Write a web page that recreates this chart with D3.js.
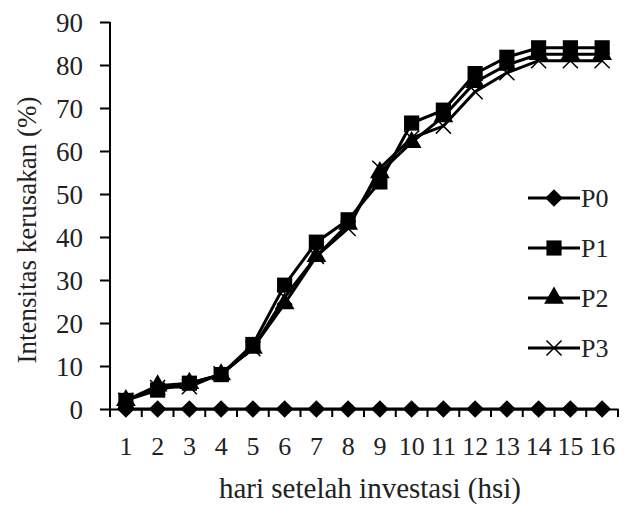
<!DOCTYPE html>
<html lang="en">
<head>
<meta charset="UTF-8">
<title>Intensitas kerusakan</title>
<script src="https://cdn.jsdelivr.net/npm/d3@7"></script>
<style>
    body { margin: 0; background: #fff; }
    svg { display: block; font-family: "Liberation Serif", "Times New Roman", serif; }
</style>
</head>
<body>
<svg width="627" height="508"></svg>
<script>
    // data
    const days = [1, 2, 3, 4, 5, 6, 7, 8, 9, 10, 11, 12, 13, 14, 15, 16];
    const P0 = [0, 0, 0, 0, 0, 0, 0, 0, 0, 0, 0, 0, 0, 0, 0, 0];
    const P1 = [2, 4.4, 6, 8, 15, 28.8, 38.8, 44, 52.8, 66.5, 69.5, 78, 81.8, 84, 84, 84];
    const P2 = [2, 5.4, 6, 8, 14.2, 24.5, 35.5, 43, 55, 62, 68, 76, 80, 82.5, 82.5, 82.5];
    const P3 = [2, 5, 5.2, 8.2, 14, 26, 35.5, 42, 56, 63, 65.8, 73.8, 78.2, 81, 81, 81];
    const yTicks = [0, 10, 20, 30, 40, 50, 60, 70, 80, 90];
    const seriesNames = ["P0", "P1", "P2", "P3"];
    const seriesData = [P0, P1, P2, P3];

    const svg = d3.select("svg");
    const mLeft = 110, mRight = 618, mTop = 22, mBottom = 409;

    const x = d3.scaleBand().domain(days).range([mLeft, mRight]).padding(0);
    const y = d3.scaleLinear().domain([0, 90]).range([mBottom, mTop]);
    const cx = d => x(d) + x.bandwidth() / 2;

    // y axis
    const yAxis = svg.append("g")
        .attr("transform", `translate(${mLeft},0)`)
        .call(d3.axisLeft(y).tickValues(yTicks).tickSize(10).tickPadding(17));
    yAxis.selectAll("path, line").attr("stroke", "#000").attr("stroke-width", 2);
    yAxis.select(".domain").attr("d", `M0,${mBottom}V${mTop}`);
    yAxis.selectAll("text").attr("font-size", 27).attr("fill", "#222")
        .attr("font-family", "Liberation Serif").attr("dy", "0.34em");

    // x axis: labels under the category centres, ticks at the boundaries
    const xAxis = svg.append("g")
        .attr("transform", `translate(0,${mBottom})`)
        .call(d3.axisBottom(x).tickSize(0));
    xAxis.select(".domain").attr("stroke", "#000").attr("stroke-width", 2);
    xAxis.selectAll("text").attr("font-size", 26).attr("fill", "#222")
        .attr("font-family", "Liberation Serif").attr("y", 46).attr("dy", 0);
    const bounds = days.map(d => x(d)).concat([mRight]);
    xAxis.selectAll(".btick").data(bounds).join("line")
        .attr("x1", d => d).attr("x2", d => d)
        .attr("y1", 0).attr("y2", 8)
        .attr("stroke", "#000").attr("stroke-width", 2);

    // axis titles
    svg.append("text")
        .attr("x", 370).attr("y", 498)
        .attr("text-anchor", "middle")
        .attr("font-size", 29).attr("fill", "#222")
        .text("hari setelah investasi (hsi)");
    svg.append("text")
        .attr("transform", "translate(36,230) rotate(-90)")
        .attr("text-anchor", "middle")
        .attr("font-size", 27).attr("fill", "#222")
        .text("Intensitas kerusakan (%)");

    // markers
    const symbols = [
        d3.symbol().type(d3.symbolDiamond2).size(200),
        d3.symbol().type(d3.symbolSquare).size(230),
        d3.symbol().type(d3.symbolTriangle).size(170),
        d3.symbol().type(d3.symbolTimes).size(150)
    ];

    const line = d3.line().x((d, i) => cx(days[i])).y(d => y(d));
    const plot = svg.append("g");

    seriesData.forEach((vals, k) => {
        plot.append("path")
            .datum(vals)
            .attr("d", line)
            .attr("fill", "none")
            .attr("stroke", "#000")
            .attr("stroke-width", 3);
    });
    seriesData.forEach((vals, k) => {
        const isX = k === 3;
        plot.selectAll(".m" + k).data(vals).join("path")
            .attr("transform", (d, i) => `translate(${cx(days[i])},${y(d)})`)
            .attr("d", symbols[k])
            .attr("fill", isX ? "none" : "#000")
            .attr("stroke", isX ? "#000" : "none")
            .attr("stroke-width", isX ? 1.5 : 0);
    });

    // legend
    const legend = svg.append("g");
    seriesNames.forEach((name, k) => {
        const ly = 198 + k * 50;
        const g = legend.append("g").attr("transform", `translate(528,${ly})`);
        g.append("line").attr("x1", 0).attr("x2", 52).attr("y1", 0).attr("y2", 0)
            .attr("stroke", "#000").attr("stroke-width", 3);
        g.append("path").attr("transform", "translate(26,0)")
            .attr("d", symbols[k])
            .attr("fill", k === 3 ? "none" : "#000")
            .attr("stroke", k === 3 ? "#000" : "none")
            .attr("stroke-width", k === 3 ? 1.5 : 0);
        g.append("text").attr("x", 53).attr("y", 9)
            .attr("font-size", 26).attr("fill", "#222")
            .text(name);
    });
</script>
</body>
</html>
